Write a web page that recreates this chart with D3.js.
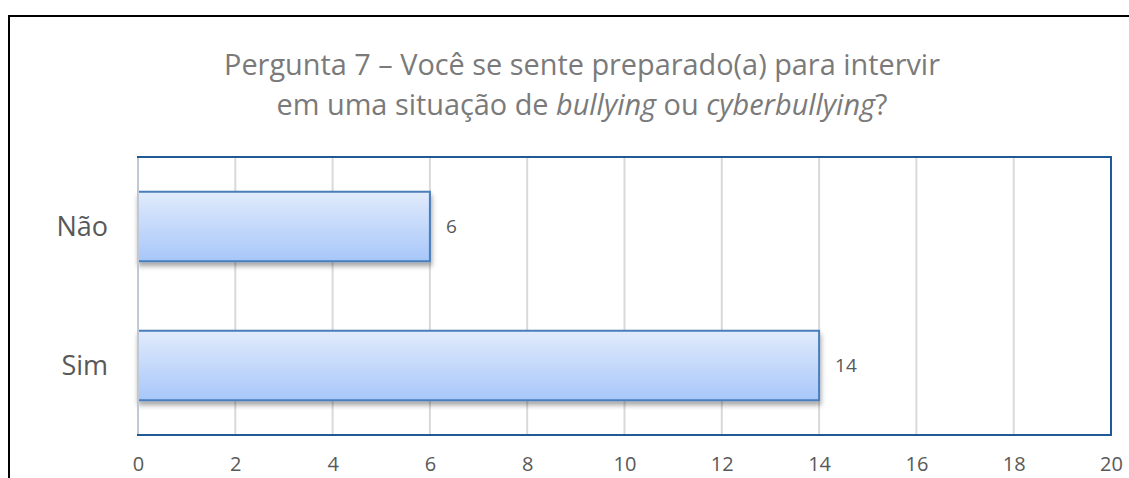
<!DOCTYPE html>
<html><head><meta charset="utf-8">
<script src="https://cdn.jsdelivr.net/npm/d3@7"></script>
<style>body{margin:0;background:#fff}svg{display:block}</style>
</head><body>
<svg id="c" width="1129" height="478"></svg>
<script>
const categories = ["Não", "Sim"];
const values = [6, 14];
const xTicks = [0, 2, 4, 6, 8, 10, 12, 14, 16, 18, 20];
const titleLine1 = "Pergunta 7 – Você se sente preparado(a) para intervir";
const titleLine2 = [["em uma situação de ", false], ["bullying", true], [" ou ", false], ["cyberbullying", true], ["?", false]];

const svg = d3.select("#c");
const font = "'Open Sans', 'Noto Sans', sans-serif";
const m = {left: 138, right: 1111, top: 157, bottom: 435};

// outer frame
svg.append("rect").attr("x", 9).attr("y", 16).attr("width", 1140).attr("height", 500)
  .attr("fill", "none").attr("stroke", "#000").attr("stroke-width", 2);

const defs = svg.append("defs");
const g = defs.append("linearGradient").attr("id", "bar").attr("x1", 0).attr("y1", 0).attr("x2", 0).attr("y2", 1);
g.append("stop").attr("offset", "0%").attr("stop-color", "#e1ebfc");
g.append("stop").attr("offset", "100%").attr("stop-color", "#a7c7f9");
const f = defs.append("filter").attr("id", "sh").attr("x", "-5%").attr("y", "-20%").attr("width", "115%").attr("height", "160%");
f.append("feDropShadow").attr("dx", 1).attr("dy", 4).attr("stdDeviation", 2.5).attr("flood-color", "#000").attr("flood-opacity", 0.35);

const x = d3.scaleLinear().domain([0, 20]).range([m.left, m.right]);
const y = d3.scaleBand().domain(categories).range([m.top, m.bottom]).paddingInner(0.5).paddingOuter(0.25);

// gridlines
svg.append("g").selectAll("line").data(xTicks.slice(1, -1)).join("line")
  .attr("x1", d => x(d)).attr("x2", d => x(d)).attr("y1", m.top).attr("y2", m.bottom)
  .attr("stroke", "#d9d9d9").attr("stroke-width", 2);

// bars
svg.append("g").selectAll("rect").data(values).join("rect")
  .attr("x", x(0)).attr("y", (d, i) => y(categories[i]))
  .attr("width", d => x(d) - x(0)).attr("height", y.bandwidth())
  .attr("fill", "url(#bar)").attr("stroke", "#4a7ebb").attr("stroke-width", 2)
  .attr("filter", "url(#sh)");

// plot border
svg.append("rect").attr("x", m.left).attr("y", m.top).attr("width", m.right - m.left).attr("height", m.bottom - m.top)
  .attr("fill", "none").attr("stroke", "#1f5a96").attr("stroke-width", 2);
svg.append("line").attr("x1", m.left).attr("x2", m.left).attr("y1", m.top + 1).attr("y2", m.bottom - 1)
  .attr("stroke", "#bfc8d4").attr("stroke-width", 2);

// value labels
svg.append("g").selectAll("text").data(values).join("text")
  .attr("x", d => x(d) + 16).attr("y", (d, i) => y(categories[i]) + y.bandwidth() / 2)
  .attr("dy", "0.36em").attr("font-family", font).attr("font-size", 19).attr("fill", "#595959")
  .text(d => d);

// category labels
svg.append("g").selectAll("text").data(categories).join("text")
  .attr("x", m.left - 30).attr("y", d => y(d) + y.bandwidth() / 2).attr("dy", "0.36em")
  .attr("text-anchor", "end").attr("font-family", font).attr("font-size", 27).attr("fill", "#595959")
  .text(d => d);

// x axis
const ax = svg.append("g").attr("transform", `translate(0,${m.bottom})`)
  .call(d3.axisBottom(x).tickValues(xTicks).tickSize(0));
ax.select(".domain").remove();
ax.selectAll("text").attr("y", 36).attr("dy", 0)
  .attr("font-family", font).attr("font-size", 20).attr("fill", "#595959");

// title (font size fitted to the reference title width)
const t1 = svg.append("text").attr("x", 582).attr("y", 75).attr("text-anchor", "middle")
  .attr("font-family", font).attr("font-size", 26).attr("fill", "#7a7a7a").text(titleLine1);
const w = t1.node().getComputedTextLength();
const fs = 26 * 716 / w;
t1.attr("font-size", fs);
const t2 = svg.append("text").attr("x", 582).attr("y", 115).attr("text-anchor", "middle")
  .attr("font-family", font).attr("font-size", fs).attr("fill", "#7a7a7a");
t2.selectAll("tspan").data(titleLine2).join("tspan")
  .attr("font-style", d => d[1] ? "italic" : "normal").text(d => d[0]);
</script>
</body></html>
